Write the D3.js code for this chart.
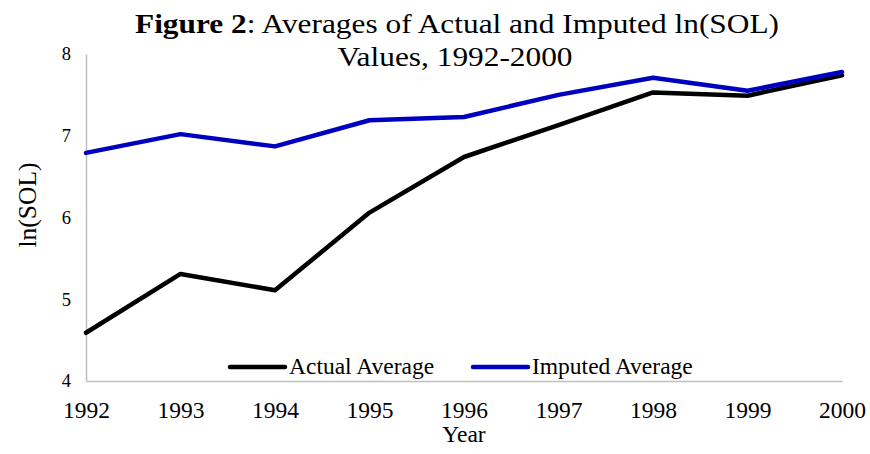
<!DOCTYPE html>
<html>
<head>
<meta charset="utf-8">
<script src="https://cdn.jsdelivr.net/npm/d3@7"></script>
<style>
  body { margin: 0; background: #fff; }
  text { font-family: "Liberation Serif", "Times New Roman", serif; fill: #000; }
</style>
</head>
<body>
<svg id="canvas" width="870" height="454"></svg>
<script>
let years = [1992, 1993, 1994, 1995, 1996, 1997, 1998, 1999, 2000]
let actualAvg = [4.59, 5.31, 5.11, 6.06, 6.74, 7.13, 7.53, 7.49, 7.74]
let imputedAvg = [6.79, 7.02, 6.87, 7.19, 7.23, 7.50, 7.71, 7.55, 7.78]
let yTicks = [4, 5, 6, 7, 8]
let seriesNames = ['Actual Average', 'Imputed Average']
let seriesColors = ['#000000', '#0000c0']

let canvas = d3.select('#canvas')

let margin = { top: 54, right: 28, bottom: 73, left: 86 }
let width = 870
let height = 454

let xScale = d3.scalePoint()
  .domain(years)
  .range([margin.left, width - margin.right])

let yScale = d3.scaleLinear()
  .domain([4, 8])
  .range([height - margin.bottom, margin.top])

// axes
let xAxis = canvas.append('g')
  .attr('transform', 'translate(0,' + (height - margin.bottom) + ')')
  .call(d3.axisBottom(xScale).tickSize(0).tickPadding(20))
xAxis.select('.domain').attr('stroke', '#bfbfbf').attr('stroke-width', 1.5)
xAxis.selectAll('text').style('font-size', '23.5px')
xAxis.attr('font-family', null)

let yAxis = canvas.append('g')
  .attr('transform', 'translate(' + margin.left + ',0)')
  .call(d3.axisLeft(yScale).tickValues(yTicks).tickSize(0).tickPadding(15).tickFormat(d3.format('d')))
yAxis.select('.domain').attr('stroke', '#bfbfbf').attr('stroke-width', 1.5)
yAxis.selectAll('text').style('font-size', '18.5px')
yAxis.attr('font-family', null)

// lines
let line = d3.line()
  .x((d, i) => xScale(years[i]))
  .y(d => yScale(d))

let allSeries = [actualAvg, imputedAvg]
canvas.selectAll('.series')
  .data(allSeries)
  .enter()
  .append('path')
  .attr('class', 'series')
  .attr('d', d => line(d))
  .attr('fill', 'none')
  .attr('stroke', (d, i) => seriesColors[i])
  .attr('stroke-width', 4.5)
  .attr('stroke-linejoin', 'round')
  .attr('stroke-linecap', 'round')

// title (text in the reference is a bit wider than tall, so stretch it)
let title = canvas.append('text')
  .attr('transform', 'translate(457,33) scale(1.12,1)')
  .attr('text-anchor', 'middle')
  .style('font-size', '28px')
title.append('tspan').attr('font-weight', 'bold').text('Figure 2')
title.append('tspan').text(': Averages of Actual and Imputed ln(SOL)')
canvas.append('text')
  .attr('transform', 'translate(455,66) scale(1.12,1)')
  .attr('text-anchor', 'middle')
  .style('font-size', '28px')
  .text('Values, 1992-2000')

// axis titles
canvas.append('text')
  .attr('x', (margin.left + width - margin.right) / 2)
  .attr('y', 442)
  .attr('text-anchor', 'middle')
  .style('font-size', '23.5px')
  .text('Year')

canvas.append('text')
  .attr('transform', 'translate(36,205) rotate(-90)')
  .attr('text-anchor', 'middle')
  .style('font-size', '25.5px')
  .text('ln(SOL)')

// legend
let legendX = [230, 473]
let legend = canvas.selectAll('.legend')
  .data(seriesNames)
  .enter()
  .append('g')
  .attr('class', 'legend')
  .attr('transform', (d, i) => 'translate(' + legendX[i] + ',367)')
legend.append('line')
  .attr('x1', 0).attr('x2', 55)
  .attr('stroke', (d, i) => seriesColors[i])
  .attr('stroke-width', 4.5)
  .attr('stroke-linecap', 'round')
legend.append('text')
  .attr('x', 59)
  .attr('y', 6.5)
  .style('font-size', '23.5px')
  .text(d => d)
</script>
</body>
</html>
